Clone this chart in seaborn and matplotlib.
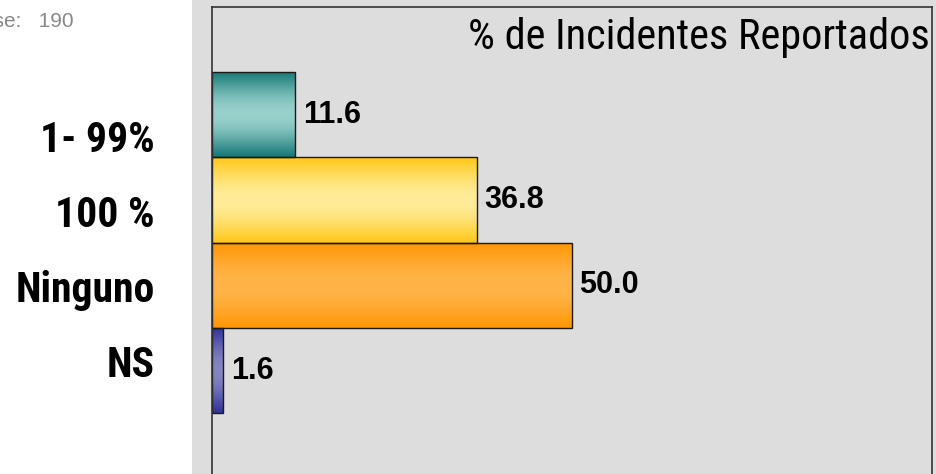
import numpy as np
import matplotlib
matplotlib.use("Agg")
import matplotlib.pyplot as plt
from matplotlib.colors import to_rgb
from matplotlib.patches import Rectangle
import seaborn as sns

# --- data ---
categories = ["1- 99%", "100 %", "Ninguno", "NS"]
values = [11.6, 36.8, 50.0, 1.6]
edge_colors = ["#177A78", "#FFC81A", "#FF9605", "#33339A"]   # dark band at top/bottom
mid_colors = ["#98D0CC", "#FFEC98", "#FFB448", "#8585C4"]    # light band in the middle
title = "% de Incidentes Reportados"
base_text = "Base:   190"

sns.set_style("white")
plt.rcParams["font.family"] = ["Liberation Sans", "DejaVu Sans"]
plt.rcParams["text.color"] = "black"
narrow = ["Liberation Sans Narrow", "Roboto Condensed", "Liberation Sans"]

W, H, DPI = 936, 474, 100
fig = plt.figure(figsize=(W / DPI, H / DPI), dpi=DPI)
fig.patch.set_facecolor("white")

# grey panel behind the chart
fig.patches.append(Rectangle((192 / W, 0), 1 - 192 / W, 1, transform=fig.transFigure,
                             facecolor="#DDDDDD", edgecolor="none", zorder=-5))

# axes box in pixels (bottom runs past the canvas like in the reference)
left, right, top, bottom = 211.5, 932, 7, 500
ax = fig.add_axes([left / W, 1 - bottom / H, (right - left) / W, (bottom - top) / H])
ax.set_facecolor("#DDDDDD")
ax.set_zorder(2)

sns.barplot(x=values, y=categories, hue=categories, palette=edge_colors,
            orient="h", width=1.0, legend=False, ax=ax,
            edgecolor="#1a1a1a", linewidth=1.0)

# vertical gradient inside every bar
t = np.linspace(0, 1, 256)
f = np.sin(np.pi * t) ** 1.2
for patch, c0, c1 in zip(list(ax.patches), edge_colors, mid_colors):
    c0, c1 = np.array(to_rgb(c0)), np.array(to_rgb(c1))
    grad = c0[None, :] + (c1 - c0)[None, :] * f[:, None]
    img = np.repeat(grad[:, None, :], 2, axis=1)
    x0, y0 = patch.get_x(), patch.get_y()
    w, h = patch.get_width(), patch.get_height()
    im = ax.imshow(img, extent=[x0, x0 + w, y0 + h, y0], aspect="auto",
                   interpolation="bilinear", zorder=patch.get_zorder() - 0.01)
    im.set_clip_path(patch)
    patch.set_facecolor("none")

for cont in ax.containers:
    ax.bar_label(cont, fmt="%.1f", padding=5.5, fontsize=22, fontweight="bold",
                 color="black")

# scales: 0-100 across, one bar = 85.3 px high
ppu = 85.3
ax.set_xlim(0, 100)
y_top = -0.5 - (72 - top) / ppu
ax.set_ylim(y_top + (bottom - top) / ppu, y_top)

ax.set_yticks([])
ax.set_xticks([])
ax.set_xlabel("")
ax.set_ylabel("")
for s in ax.spines.values():
    s.set_color("#333333")
    s.set_linewidth(1.2)

# category labels (placed as separate text boxes, as in the reference)
for i, lab in enumerate(categories):
    fig.text(155 / W, 1 - (152 + 75 * i) / H, lab, ha="right", va="baseline",
             fontsize=30, fontweight="bold", family=narrow, color="black")

fig.text(930 / W, 1 - 49 / H, title, ha="right", va="baseline",
         fontsize=30.5, family=narrow, color="black", zorder=5)
fig.text(74 / W, 1 - 27 / H, base_text, ha="right", va="baseline",
         fontsize=15, color="#888888")

fig.savefig("out.png", dpi=DPI)
